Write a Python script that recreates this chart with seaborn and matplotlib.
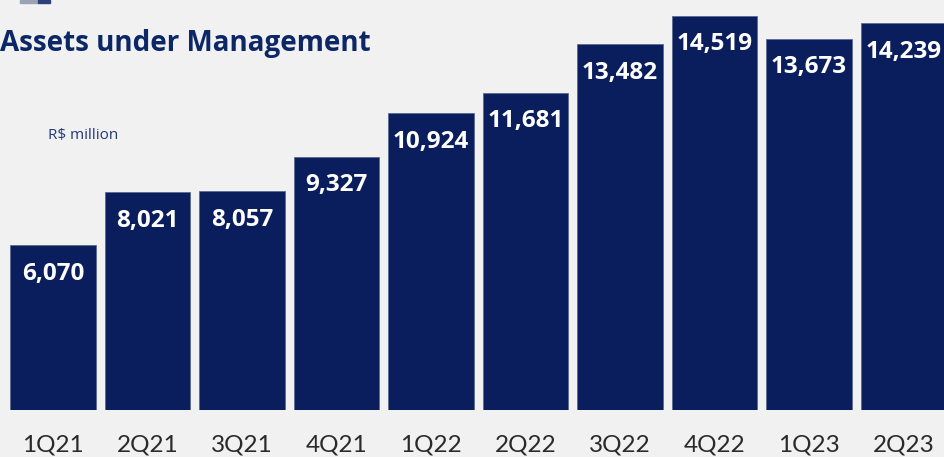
import matplotlib
matplotlib.use("Agg")
import matplotlib.pyplot as plt
import seaborn as sns
import pandas as pd

quarters = ["1Q21", "2Q21", "3Q21", "4Q21", "1Q22", "2Q22", "3Q22", "4Q22", "1Q23", "2Q23"]
aum = [6070, 8021, 8057, 9327, 10924, 11681, 13482, 14519, 13673, 14239]

title_text = "Assets under Management"
unit_text = "R$ million"

bg = "#f1f1f1"
navy = "#0a1d5c"
title_navy = "#0b2766"

sns.set_theme(style="white")
plt.rcParams["font.family"] = ["Open Sans", "DejaVu Sans"]

df = pd.DataFrame({"quarter": quarters, "aum": aum})

W, H = 945, 457
fig = plt.figure(figsize=(W / 100, H / 100), dpi=100, facecolor=bg)
ax = fig.add_axes([5.75 / W, (H - 410) / H, 945 / W, 410 / H])
ax.set_facecolor(bg)

sns.barplot(data=df, x="quarter", y="aum", color=navy, width=0.9,
            saturation=1, edgecolor="#5a6a90", linewidth=0.6, ax=ax)

ax.set_xlim(-0.5, 9.5)
ax.set_ylim(0, 15097)
for s in ax.spines.values():
    s.set_visible(False)
ax.set_yticks([])
ax.set_xlabel("")
ax.set_ylabel("")
ax.tick_params(axis="x", length=0, pad=17.5, labelsize=17.5, labelcolor="#2a2a2a")
for t in ax.get_xticklabels():
    t.set_fontfamily(["Lato", "DejaVu Sans"])

for i, v in enumerate(aum):
    ax.annotate(f"{v:,}", xy=(i, v), xytext=(0, -12), textcoords="offset points",
                ha="center", va="top", color="white", fontsize=17.5,
                fontweight="bold")

fig.text(0.0, 1 - 44 / H, title_text, ha="left", va="center", color=title_navy,
         fontsize=20, fontweight="bold")
fig.text(48 / W, 1 - 135 / H, unit_text, ha="left", va="center", color="#1f3a7a",
         fontsize=11)

# clipped logo corner at the top edge
fig.patches.append(plt.Rectangle((20 / W, 1 - 3 / H), 18 / W, 3 / H,
                                 transform=fig.transFigure, color="#9aa3b5"))
fig.patches.append(plt.Rectangle((38 / W, 1 - 3 / H), 12 / W, 3 / H,
                                 transform=fig.transFigure, color="#2c3f7a"))

fig.savefig("out.png", dpi=100, facecolor=bg)
